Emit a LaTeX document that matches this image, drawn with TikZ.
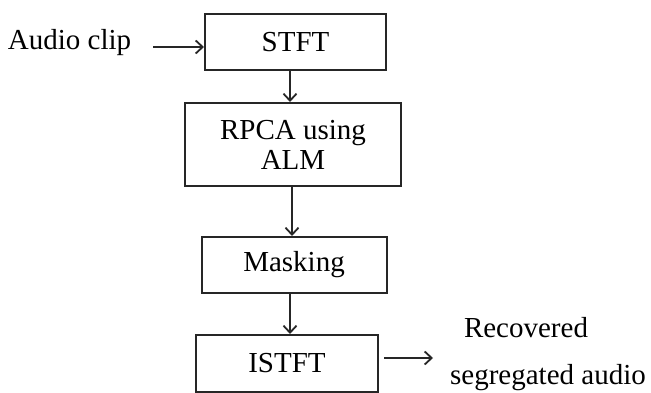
\documentclass[tikz,border=0pt]{standalone}
\usepackage{fontspec}
\setmainfont{Liberation Serif}
\usetikzlibrary{arrows.meta}
\begin{document}
\begin{tikzpicture}[x=1pt,y=-1pt,
  box/.style={draw=black!85,line width=2pt,inner sep=0pt,align=center,font=\fontsize{29}{32}\selectfont},
  lbl/.style={inner sep=0pt,font=\fontsize{29}{32}\selectfont},
  arr/.style={line width=2pt,draw=black!85,-{Straight Barb[length=7pt,width=13pt,line width=1.8pt]}}]
\useasboundingbox (0,0) rectangle (651,393);
\node[box,minimum width=181pt,minimum height=56pt] (stft) at (295.5,42) {STFT};
\node[box,minimum width=216pt,minimum height=83pt] (rpca) at (293,144.5) {RPCA using\\[-2pt]ALM};
\node[box,minimum width=185pt,minimum height=56pt] (mask) at (294,265) {Masking};
\node[box,minimum width=182pt,minimum height=57pt] (istft) at (287,363.5) {ISTFT};
\node[lbl] (audio) at (69.5,43) {Audio clip};
\node[lbl] (rec1) at (526,328) {Recovered};
\node[lbl] (rec2) at (548,378) {segregated audio};
\coordinate (ain) at (153,47);
\coordinate (aout) at (433,358);
\draw[arr] (ain) -- (ain -| stft.west);
\draw[arr] ([xshift=-5.5pt]stft.south) -- ([xshift=-5.5pt]stft.south |- rpca.north);
\draw[arr] ([xshift=-1pt]rpca.south) -- ([xshift=-1pt]rpca.south |- mask.north);
\draw[arr] ([xshift=-4pt]mask.south) -- ([xshift=-4pt]mask.south |- istft.north);
\draw[arr] (aout -| istft.east) ++(5,0) -- (aout);
\end{tikzpicture}
\end{document}
